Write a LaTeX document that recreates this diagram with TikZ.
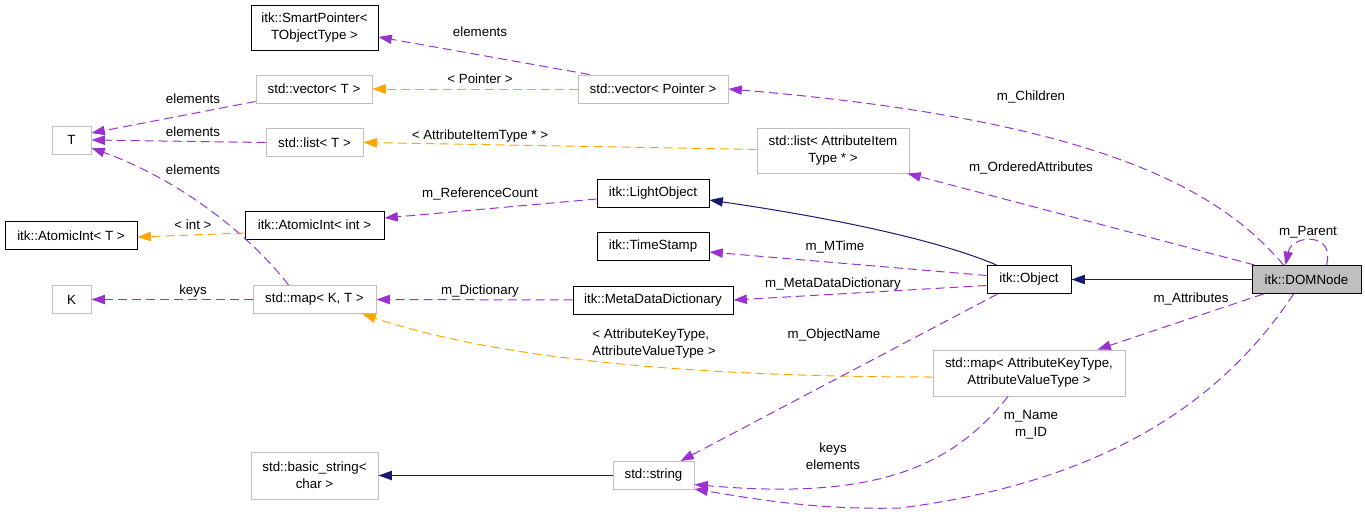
\documentclass[tikz,border=0pt]{standalone}
\usepackage{fontspec}
\setmainfont{Liberation Sans}
\usetikzlibrary{arrows.meta,calc}
\definecolor{edgep}{HTML}{9A32CD}
\definecolor{edgeo}{HTML}{FFA500}
\definecolor{edgen}{HTML}{191970}
\definecolor{boxg}{HTML}{BFBFBF}
\begin{document}
\begin{tikzpicture}[x=0.75pt,y=-0.75pt,
  txt/.style={font=\fontsize{10}{12.75}\selectfont},
  box/.style={txt,draw=black,line width=0.75pt,fill=white,inner sep=0pt,align=center},
  gbox/.style={box,draw=boxg},
  lbl/.style={txt,inner sep=0pt,align=center},
  tip/.style={-{Triangle[length=10pt,width=7pt]}},
  dep/.style={tip,draw=edgep,line width=0.75pt,dash pattern=on 6.75pt off 3.75pt},
  deo/.style={tip,draw=edgeo,line width=0.75pt,dash pattern=on 6.75pt off 3.75pt},
  inh/.style={tip,draw=edgen,line width=0.75pt}]
\useasboundingbox (0,0) rectangle (1365,514);
% nodes
\node[box,minimum width=95.25pt,minimum height=33.75pt] (sp) at (314.5,28) {itk::SmartPointer<\\TObjectType >};
\node[gbox,minimum width=87pt,minimum height=21pt] (vecT) at (314,89) {std::vector< T >};
\node[gbox,minimum width=112.5pt,minimum height=21pt] (vecP) at (653,89) {std::vector< Pointer >};
\node[gbox,minimum width=29.25pt,minimum height=21pt] (T) at (71.5,140) {T};
\node[gbox,minimum width=72.75pt,minimum height=21pt] (listT) at (314.5,142.5) {std::list< T >};
\node[gbox,minimum width=114pt,minimum height=33.75pt] (listA) at (833,150.5) {std::list< AttributeItem\\Type * >};
\node[box,minimum width=84pt,minimum height=21pt] (light) at (653,193) {itk::LightObject};
\node[box,minimum width=99pt,minimum height=21pt] (aT) at (71,235.5) {itk::AtomicInt< T >};
\node[box,minimum width=104.25pt,minimum height=21pt] (aInt) at (314.5,225) {itk::AtomicInt< int >};
\node[box,minimum width=84pt,minimum height=21pt] (ts) at (653,246) {itk::TimeStamp};
\node[gbox,minimum width=29.25pt,minimum height=21pt] (K) at (71.5,299.5) {K};
\node[gbox,minimum width=92.25pt,minimum height=21pt] (mapKT) at (314.5,299.5) {std::map< K, T >};
\node[box,minimum width=120pt,minimum height=21pt] (mdd) at (653,300) {itk::MetaDataDictionary};
\node[box,minimum width=63pt,minimum height=21pt] (obj) at (1029,279.5) {itk::Object};
\node[box,fill=boxg,minimum width=81.75pt,minimum height=21pt] (dom) at (1306.5,279.5) {itk::DOMNode};
\node[gbox,minimum width=144pt,minimum height=34.5pt] (mapA) at (1029,373) {std::map< AttributeKeyType,\\AttributeValueType >};
\node[gbox,minimum width=95.25pt,minimum height=35.25pt] (bstr) at (314.5,475.5) {std::basic\_string<\\char >};
\node[gbox,minimum width=60.75pt,minimum height=21pt] (str) at (653.5,475.5) {std::string};
% edges
\draw[dep] ($(vecP.north west)+(12,0)$) -- ($(sp.east)+(0,9)$);
\draw[deo] (vecP.west) -- (vecT.east);
\draw[dep] ($(vecT.south west)+(0,-2)$) -- ($(T.east)+(0,-7)$);
\draw[dep] (listT.west) -- (T.east);
\draw[dep] ($(mapKT.north)+(-26,0)$) .. controls (250,235) and (180,180) .. ($(T.east)+(0,8)$);
\draw[deo] ($(listA.west)+(0,-1)$) -- (listT.east);
\draw[dep] ($(dom.north)+(-23,0)$) .. controls (1220,190) and (1100,120) .. (vecP.east);
\draw[dep] ($(dom.north west)+(3,0)$) -- ($(listA.south east)+(-2,0)$);
\draw[dep] ($(dom.north)+(20,0)$) .. controls (1336,232) and (1292,234) .. ($(dom.north)+(-21,0)$);
\draw[dep] ($(light.west)+(0,6)$) -- ($(aInt.east)+(0,-7)$);
\draw[deo] ($(aInt.west)+(0,8)$) -- ($(aT.east)+(0,1.5)$);
\draw[inh] ($(obj.north west)+(10,0)$) .. controls (950,245) and (860,222) .. ($(light.east)+(0,7)$);
\draw[dep] ($(obj.west)+(0,-4)$) -- ($(ts.east)+(0,6)$);
\draw[dep] ($(obj.west)+(0,6)$) -- (mdd.east);
\draw[dep] (mapKT.west) -- (K.east);
\draw[dep] (mdd.west) -- (mapKT.east);
\draw[deo] ($(mapA.west)+(0,4)$) .. controls (700,377) and (500,360) .. ($(mapKT.south east)+(-14,0)$);
\draw[inh] (dom.west) -- (obj.east);
\draw[dep] ($(dom.south west)+(12,0)$) -- ($(mapA.north east)+(-28,0)$);
\draw[dep] ($(obj.south west)+(11,0)$) -- ($(str.north east)+(-14,0)$);
\draw[dep] ($(mapA.south)+(-21,0)$) .. controls (950,470) and (870,500) .. ($(str.east)+(0,9)$);
\draw[dep] ($(dom.south)+(-13,0)$) .. controls (1230,390) and (1120,480) .. (900,508) .. controls (820,510) and (760,500) .. ($(str.south east)+(0,-1)$);
\draw[inh] (str.west) -- (bstr.east);
% labels
\node[lbl] (l1) at (480,32) {elements};
\node[lbl] (l2) at (480,79) {< Pointer >};
\node[lbl] (l3) at (193,99) {elements};
\node[lbl] (l4) at (193,132) {elements};
\node[lbl] (l5) at (193,170) {elements};
\node[lbl] (l6) at (480,136) {< AttributeItemType * >};
\node[lbl] (l7) at (480,194) {m\_ReferenceCount};
\node[lbl] (l8) at (193,225) {< int >};
\node[lbl] (l9) at (1031,97) {m\_Children};
\node[lbl] (l10) at (1031,168) {m\_OrderedAttributes};
\node[lbl] (l11) at (1308,232) {m\_Parent};
\node[lbl] (l12) at (835,247) {m\_MTime};
\node[lbl] (l13) at (833,284) {m\_MetaDataDictionary};
\node[lbl] (l14) at (480,291) {m\_Dictionary};
\node[lbl] (l15) at (193,291) {keys};
\node[lbl,align=left] (l16) at (654,343.5) {< AttributeKeyType,\\AttributeValueType >};
\node[lbl] (l17) at (834,335) {m\_ObjectName};
\node[lbl] (l18) at (833,456) {keys\\elements};
\node[lbl] (l19) at (1191,299) {m\_Attributes};
\node[lbl] (l20) at (1031,424.5) {m\_Name\\m\_ID};
\end{tikzpicture}
\end{document}
